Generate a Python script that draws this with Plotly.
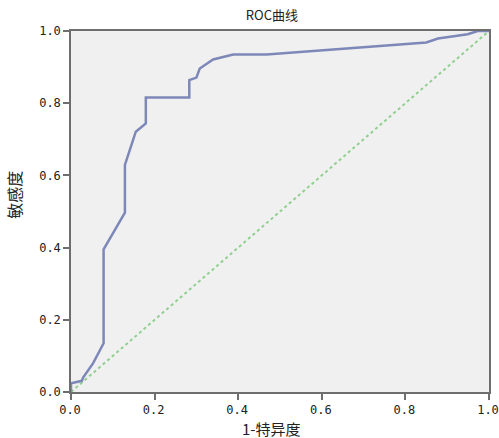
import plotly.graph_objects as go

# ROC curve points (1 - specificity, sensitivity)
fpr = [0.0, 0.0, 0.026, 0.029, 0.053, 0.078, 0.078, 0.129, 0.129, 0.149, 0.155, 0.179, 0.179,
       0.283, 0.283, 0.300, 0.308, 0.340, 0.388, 0.468, 0.700, 0.850, 0.878, 0.949, 0.973, 1.0]
tpr = [0.0, 0.024, 0.031, 0.040, 0.080, 0.135, 0.395, 0.497, 0.629, 0.698, 0.721, 0.744, 0.816,
       0.816, 0.864, 0.871, 0.896, 0.921, 0.935, 0.935, 0.955, 0.968, 0.979, 0.991, 1.0, 1.0]
ref_x = [0.0, 1.0]
ref_y = [0.0, 1.0]
tick_vals = [0.0, 0.2, 0.4, 0.6, 0.8, 1.0]
tick_text = ["0.0", "0.2", "0.4", "0.6", "0.8", "1.0"]

fig = go.Figure()
fig.add_trace(go.Scatter(x=ref_x, y=ref_y, mode="lines",
                         line=dict(color="#8fd08f", width=2, dash="dot"), hoverinfo="skip"))
fig.add_trace(go.Scatter(x=fpr, y=tpr, mode="lines",
                         line=dict(color="#7d88b8", width=2.5)))

font = "Noto Sans CJK SC, sans-serif"
axis_common = dict(range=[0, 1], tickvals=tick_vals, ticktext=tick_text, automargin=False,
                   showgrid=False, zeroline=False, showline=True, mirror=True,
                   linecolor="#6e6e6e", linewidth=1.5, ticks="outside", ticklen=6,
                   tickcolor="#6e6e6e", tickwidth=1.5, ticklabeloverflow="allow",
                   tickfont=dict(family="DejaVu Sans Mono, monospace", size=12, color="#222"))
fig.update_layout(
    width=499, height=438,
    margin=dict(l=71, r=10, t=31, b=46),
    paper_bgcolor="white", plot_bgcolor="#f0f0f0",
    showlegend=False,
    title=dict(text="ROC曲线", x=0.545, xanchor="center", y=0.965, yanchor="middle",
               automargin=False,
               font=dict(family=font, size=13, color="#222")),
    xaxis=dict(**axis_common, ticklabelshift=-1, ticklabelstandoff=0),
    yaxis=axis_common,
    annotations=[
        dict(text="1-特异度", xref="paper", yref="paper", x=0.48, y=-0.1, xanchor="center",
             yanchor="middle", showarrow=False, font=dict(family=font, size=15, color="#222")),
        dict(text="敏感度", xref="paper", yref="paper", x=-0.135, y=0.545, xanchor="center",
             yanchor="middle", textangle=-90, showarrow=False,
             font=dict(family=font, size=16, color="#222")),
    ],
)
fig.write_html("out.html", config={"displayModeBar": False},
               post_script="document.body.style.margin='0';document.body.style.overflow='hidden';")
